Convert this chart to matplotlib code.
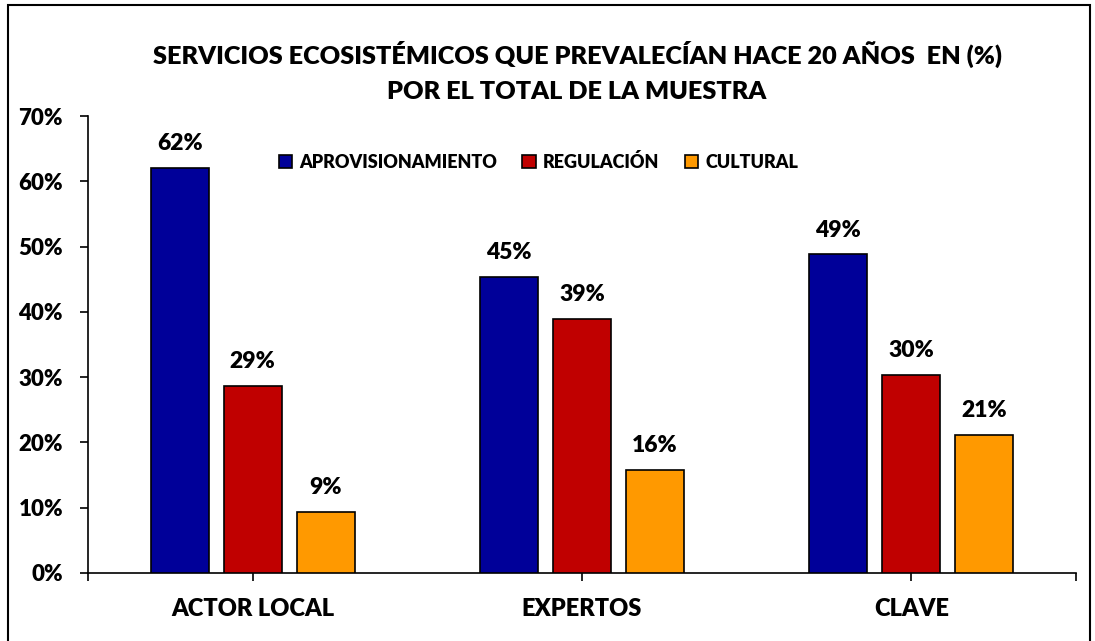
import matplotlib.pyplot as plt
from matplotlib.patches import Rectangle

# datos
grupos = ["ACTOR LOCAL", "EXPERTOS", "CLAVE"]
series = ["APROVISIONAMIENTO", "REGULACIÓN", "CULTURAL"]
aprovisionamiento = [62.1, 45.4, 48.8]
regulacion = [28.7, 38.9, 30.3]
cultural = [9.3, 15.8, 21.1]
etiquetas_y = ["0%", "10%", "20%", "30%", "40%", "50%", "60%", "70%"]

colores = ["#000099", "#C00000", "#FF9900"]
valores = [aprovisionamiento, regulacion, cultural]
peso = "heavy"

plt.rcParams["font.family"] = ["Lato", "DejaVu Sans"]
plt.rcParams["font.weight"] = peso

fig = plt.figure(figsize=(10.95, 6.41), dpi=100)
ax = fig.add_axes([0.0804, 0.1061, 0.9022, 0.7129])

ancho = 0.176
desplaz = [-0.222, 0.0, 0.222]
x = list(range(len(grupos)))

for serie, vals, color, d in zip(series, valores, colores, desplaz):
    pos = [i + d for i in x]
    barras = ax.bar(pos, vals, width=ancho, color=color, edgecolor="black",
                    linewidth=1.2, label=serie, zorder=3)
    for b, v in zip(barras, vals):
        ax.annotate(f"{round(v):.0f}%", (b.get_x() + b.get_width() / 2, v),
                    xytext=(0, 10), textcoords="offset points",
                    ha="center", va="bottom", fontsize=16.5, fontweight=peso)

ax.set_xlim(-0.5, 2.5)
ax.set_ylim(0, 70)
ax.set_yticks(range(0, 71, 10))
ax.set_yticklabels(etiquetas_y)
ax.set_xticks([-0.5, 0, 1, 2, 2.5])
ax.set_xticklabels(["", grupos[0], grupos[1], grupos[2], ""])
ax.tick_params(axis="y", direction="out", length=6, width=1.2, pad=12, labelsize=16)
ax.tick_params(axis="x", direction="out", length=6, width=1.2, pad=12, labelsize=17)
for lab in ax.get_xticklabels() + ax.get_yticklabels():
    lab.set_fontweight(peso)

for s in ["top", "right"]:
    ax.spines[s].set_visible(False)
for s in ["left", "bottom"]:
    ax.spines[s].set_linewidth(1.2)

ax.legend(loc="upper center", bbox_to_anchor=(0.456, 0.955), ncol=3, frameon=False,
          handlelength=0.75, handleheight=0.75, handletextpad=0.4, columnspacing=1.4,
          prop={"size": 13, "weight": peso})

fig.text(0.527, 0.915, "SERVICIOS ECOSISTÉMICOS QUE PREVALECÍAN HACE 20 AÑOS  EN (%)",
         ha="center", va="center", fontsize=18.2, fontweight=peso)
fig.text(0.527, 0.856, "POR EL TOTAL DE LA MUESTRA",
         ha="center", va="center", fontsize=18.2, fontweight=peso)

# marco exterior
fig.patches.append(Rectangle((8 / 1095, -0.05), 1082 / 1095, 1.05 - 5 / 641,
                             transform=fig.transFigure, fill=False,
                             edgecolor="black", linewidth=1.5))

fig.savefig("out.png", dpi=100)
